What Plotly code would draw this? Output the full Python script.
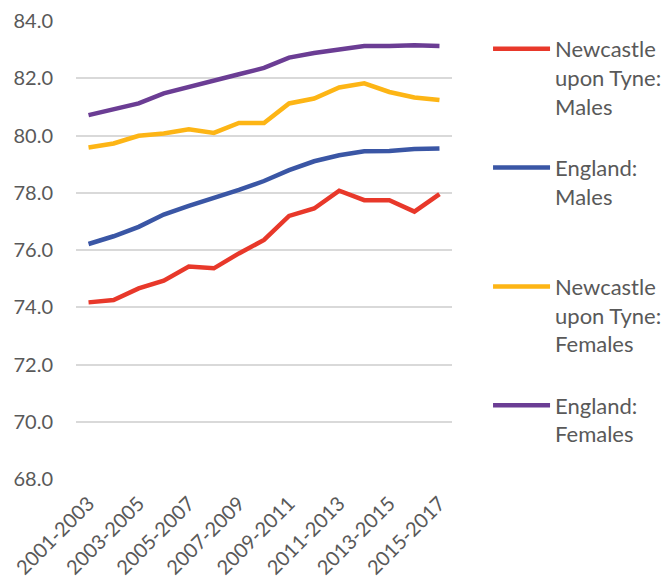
import plotly.graph_objects as go

periods = ["2001-2003", "2002-2004", "2003-2005", "2004-2006", "2005-2007",
           "2006-2008", "2007-2009", "2008-2010", "2009-2011", "2010-2012",
           "2011-2013", "2012-2014", "2013-2015", "2014-2016", "2015-2017"]

newcastle_males = [74.17, 74.25, 74.66, 74.93, 75.42, 75.36, 75.88, 76.35,
                   77.19, 77.45, 78.07, 77.74, 77.74, 77.34, 77.95]
england_males = [76.21, 76.48, 76.81, 77.24, 77.54, 77.80, 78.10, 78.41,
                 78.79, 79.10, 79.31, 79.45, 79.46, 79.53, 79.55]
newcastle_females = [79.58, 79.72, 79.99, 80.07, 80.22, 80.09, 80.44, 80.44,
                     81.12, 81.29, 81.68, 81.82, 81.52, 81.33, 81.24]
england_females = [80.71, 80.92, 81.12, 81.47, 81.68, 81.90, 82.14, 82.36,
                   82.72, 82.88, 83.02, 83.13, 83.13, 83.15, 83.13]

series = [
    ("Newcastle<br>upon Tyne:<br>Males", newcastle_males, "#E8382A"),
    ("England:<br>Males<br> ", england_males, "#3A56A5"),
    ("Newcastle<br>upon Tyne:<br>Females", newcastle_females, "#FDB515"),
    ("England:<br>Females", england_females, "#6B3D94"),
]

fig = go.Figure()
for i, (name, vals, color) in enumerate(series):
    fig.add_trace(go.Scatter(
        x=periods, y=vals, name=name, mode="lines",
        line=dict(color=color, width=4.5),
        legendgroup=f"g{i}",
    ))

text_color = "#595959"
fig.update_layout(
    width=664, height=584,
    margin=dict(l=76, r=212, t=21, b=105),
    paper_bgcolor="white", plot_bgcolor="white",
    font=dict(family="Lato", size=20, color=text_color),
    showlegend=True,
    legend=dict(
        xref="container", yref="container",
        x=0.735, y=1 - 28 / 584, xanchor="left", yanchor="top",
        font=dict(size=22, color=text_color),
        valign="top", itemwidth=57, tracegroupgap=30,
        traceorder="grouped", maxheight=560,
    ),
    xaxis=dict(
        type="category", tickvals=periods[::2], tickangle=-45,
        showgrid=False, showline=False, zeroline=False,
        range=[-0.5, 14.5], ticks="", ticklabelstandoff=8,
        automargin=False,
        tickfont=dict(size=20, color=text_color),
    ),
    yaxis=dict(
        range=[68, 84], dtick=2, tickformat=".1f",
        showgrid=True, gridcolor="#D9D9D9", gridwidth=1.5,
        zeroline=False, showline=False, ticks="",
        ticklabelstandoff=22, automargin=False,
        tickfont=dict(size=20, color=text_color),
    ),
)

fig.write_html("out.html")
